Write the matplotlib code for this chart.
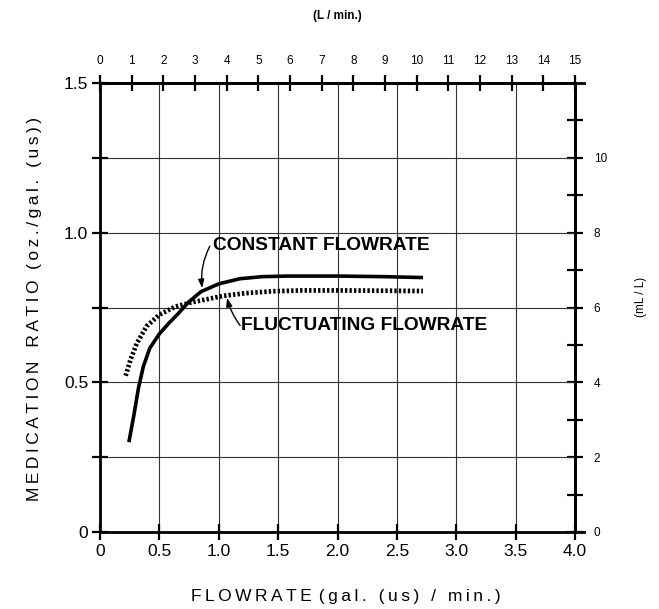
import matplotlib
matplotlib.use("Agg")
import matplotlib.pyplot as plt

plt.rcParams['font.family'] = ['Liberation Sans', 'DejaVu Sans']

# Data (x: gal(us)/min, y: oz/gal(us))
const_x = [0.243, 0.284, 0.324, 0.365, 0.419, 0.50, 0.581, 0.662, 0.743, 0.851, 1.00, 1.176,
           1.365, 1.58, 2.00, 2.40, 2.72]
const_y = [0.300, 0.387, 0.481, 0.553, 0.614, 0.662, 0.698, 0.731, 0.767, 0.803, 0.829, 0.846,
           0.853, 0.855, 0.855, 0.853, 0.850]
fluct_x = [0.216, 0.257, 0.311, 0.392, 0.50, 0.635, 0.77, 0.905, 1.04, 1.23, 1.446, 1.69,
           2.00, 2.40, 2.72]
fluct_y = [0.522, 0.576, 0.631, 0.687, 0.726, 0.753, 0.767, 0.778, 0.789, 0.798, 0.804, 0.807,
           0.807, 0.806, 0.805]

x_ticks = [0, 0.5, 1.0, 1.5, 2.0, 2.5, 3.0, 3.5, 4.0]
x_ticklabels = ['0', '0.5', '1.0', '1.5', '2.0', '2.5', '3.0', '3.5', '4.0']
y_ticks = [0, 0.25, 0.5, 0.75, 1.0, 1.25, 1.5]
y_ticklabels = ['0', '', '0.5', '', '1.0', '', '1.5']
top_ticks = list(range(0, 16))
right_ticks = list(range(0, 12))
right_ticklabels = ['0', '', '2', '', '4', '', '6', '', '8', '', '10', '']


def spaced(s, sep='\u2009'):
    return sep.join(s)


fig = plt.figure(figsize=(6.59, 6.09), dpi=100)
ax = fig.add_axes([100/659, 1 - 532/609, 475/659, 449/609])

ax.set_xlim(0, 4.0)
ax.set_ylim(0, 1.5)

for v in x_ticks[1:-1]:
    ax.axvline(v, color='#333333', lw=0.8, zorder=1)
for v in y_ticks[1:-1]:
    ax.axhline(v, color='#333333', lw=0.8, zorder=1)

ax.plot(const_x, const_y, color='black', lw=2.6, solid_capstyle='butt',
        solid_joinstyle='round', zorder=3)
ax.plot(fluct_x, fluct_y, color='black', lw=3.4, linestyle=(0, (0.5, 0.45)),
        dash_capstyle='butt', zorder=3)

for s in ax.spines.values():
    s.set_linewidth(2.0)

ax.set_xticks(x_ticks)
ax.set_xticklabels(x_ticklabels)
ax.set_yticks(y_ticks)
ax.set_yticklabels(y_ticklabels)
ax.tick_params(axis='both', direction='inout', length=11, width=1.6, labelsize=12.5, pad=3)

top = ax.secondary_xaxis('top', functions=(lambda x: x * 3.75, lambda x: x / 3.75))
top.set_xticks(top_ticks)
top.tick_params(direction='inout', length=11, width=1.6, labelsize=8.5, pad=6)
top.spines['top'].set_linewidth(2.0)

right = ax.secondary_yaxis('right', functions=(lambda y: y * 8, lambda y: y / 8))
right.set_yticks(right_ticks)
right.set_yticklabels(right_ticklabels)
right.tick_params(direction='inout', length=11, width=1.6, labelsize=8.5, pad=8)
right.spines['right'].set_linewidth(2.0)

# spine extensions to the right
for yv in (0, 1):
    ax.plot([1.0, 1.018], [yv, yv], transform=ax.transAxes, color='black', lw=2.0, clip_on=False)

# annotations
ax.text(0.95, 0.957, 'CONSTANT FLOWRATE', fontsize=13.8, fontweight='bold', ha='left', va='center')
ax.annotate('', xy=(0.86, 0.815), xytext=(0.925, 0.955),
            arrowprops=dict(arrowstyle='-|>,head_length=0.5,head_width=0.18', color='black', lw=1.0,
                            connectionstyle='arc3,rad=0.15', shrinkA=0, shrinkB=0))
ax.text(1.19, 0.69, 'FLUCTUATING FLOWRATE', fontsize=13.8, fontweight='bold', ha='left', va='center')
ax.annotate('', xy=(1.07, 0.782), xytext=(1.18, 0.69),
            arrowprops=dict(arrowstyle='-|>,head_length=0.5,head_width=0.18', color='black', lw=1.0,
                            connectionstyle='arc3,rad=-0.1', shrinkA=0, shrinkB=0))

ylab = spaced('MEDICATION') + '\u2009\u2009\u2009\u2009' + spaced('RATIO') + '\u2009\u2009\u2009' + spaced('(oz./gal. (us))')
fig.text(35/659, 1 - 309/609, ylab, rotation=90, fontsize=12.5, ha='center', va='center')
xlab = spaced('FLOWRATE') + '\u2009\u2009' + spaced('(gal. (us) / min.)')
fig.text(346/659, 1 - 596/609, xlab, fontsize=12.5, ha='center', va='center')
fig.text(337/659, 1 - 16/609, '(L / min.)', fontsize=8.5, fontweight='bold', ha='center', va='center')
fig.text(641/659, 1 - 297/609, '(mL / L)', rotation=90, fontsize=8.5, ha='center', va='center')

fig.savefig('out.png', dpi=100)
